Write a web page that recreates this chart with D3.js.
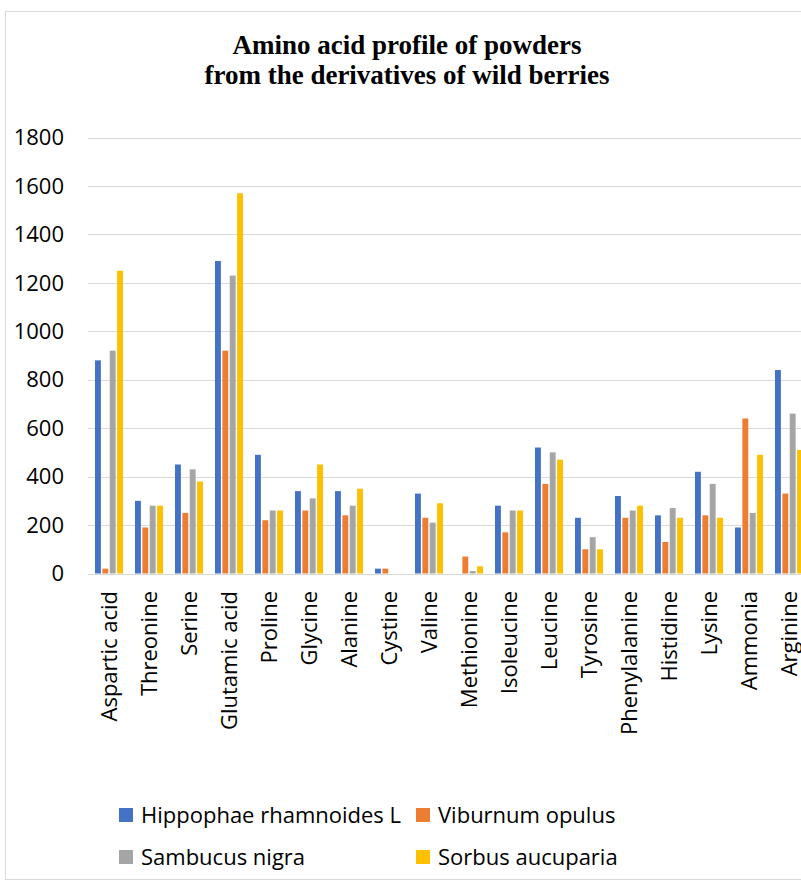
<!DOCTYPE html>
<html>
<head>
<meta charset="utf-8">
<script src="https://cdn.jsdelivr.net/npm/d3@7"></script>
<style>
  body { margin: 0; background: #fff; }
  svg { display: block; }
</style>
</head>
<body>
<div id="chart"></div>
<script>
const categories = ['Aspartic acid', 'Threonine', 'Serine', 'Glutamic acid', 'Proline', 'Glycine',
    'Alanine', 'Cystine', 'Valine', 'Methionine', 'Isoleucine', 'Leucine', 'Tyrosine',
    'Phenylalanine', 'Histidine', 'Lysine', 'Ammonia', 'Arginine'];
const series = ['Hippophae rhamnoides L', 'Viburnum opulus', 'Sambucus nigra', 'Sorbus aucuparia'];
const colors = ['#4472c4', '#ed7d31', '#a5a5a5', '#ffc000'];

const hippophae = [880, 300, 450, 1290, 490, 340, 340, 20, 330, 0, 280, 520, 230, 320, 240, 420, 190, 840];
const viburnum  = [20, 190, 250, 920, 220, 260, 240, 20, 230, 70, 170, 370, 100, 230, 130, 240, 640, 330];
const sambucus  = [920, 280, 430, 1230, 260, 310, 280, 0, 210, 10, 260, 500, 150, 260, 270, 370, 250, 660];
const sorbus    = [1250, 280, 380, 1570, 260, 450, 350, 0, 290, 30, 260, 470, 100, 280, 230, 230, 490, 510];
const values = [hippophae, viburnum, sambucus, sorbus];

const yTicks = [0, 200, 400, 600, 800, 1000, 1200, 1400, 1600, 1800];

const width = 801, height = 883;
const font = '"Open Sans", sans-serif';

const svg = d3.select('#chart').append('svg')
    .attr('width', width)
    .attr('height', height);

// chart frame
svg.append('rect')
    .attr('x', 5.5).attr('y', 11.5)
    .attr('width', 900).attr('height', 868)
    .attr('fill', '#fff')
    .attr('stroke', '#d9d9d9');

// title
const title = svg.append('text')
    .attr('text-anchor', 'middle')
    .style('font-family', '"Liberation Serif", "Times New Roman", serif')
    .style('font-weight', 'bold')
    .style('font-size', '27px')
    .attr('fill', '#000');
title.append('tspan').attr('x', 407).attr('y', 54).text('Amino acid profile of powders');
title.append('tspan').attr('x', 407).attr('y', 84).text('from the derivatives of wild berries');

const y = d3.scaleLinear().domain([0, 1800]).range([573.5, 137.5]);

const x0 = d3.scaleBand()
    .domain(categories)
    .range([89, 809])
    .paddingInner(0.3)
    .paddingOuter(0.15);

const x1 = d3.scaleBand()
    .domain(series)
    .range([0, x0.bandwidth()])
    .paddingInner(0.2);

// gridlines
svg.append('g')
    .selectAll('line')
    .data(yTicks)
    .join('line')
    .attr('x1', 88).attr('x2', 810)
    .attr('y1', d => Math.round(y(d)) + 0.5)
    .attr('y2', d => Math.round(y(d)) + 0.5)
    .attr('stroke', '#d9d9d9')
    .attr('stroke-width', 1);

// y tick labels
svg.append('g')
    .selectAll('text')
    .data(yTicks)
    .join('text')
    .attr('x', 64)
    .attr('y', d => y(d))
    .attr('dy', '0.35em')
    .attr('text-anchor', 'end')
    .style('font-family', font)
    .style('font-size', '22px')
    .attr('fill', '#000')
    .text(d => d);

// bars
const groups = svg.append('g')
    .selectAll('g')
    .data(series)
    .join('g')
    .attr('fill', (d, i) => colors[i]);

groups.selectAll('rect')
    .data((s, si) => categories.map((c, ci) => ({ c, s, v: values[si][ci] })))
    .join('rect')
    .attr('x', d => x0(d.c) + x1(d.s))
    .attr('width', x1.bandwidth())
    .attr('y', d => y(d.v))
    .attr('height', d => y(0) - y(d.v));

// category labels
svg.append('g')
    .selectAll('text')
    .data(categories)
    .join('text')
    .attr('transform', d => `translate(${x0(d) + x0.bandwidth() / 2}, 591) rotate(-90)`)
    .attr('text-anchor', 'end')
    .attr('dy', '0.35em')
    .style('font-family', font)
    .style('font-size', '22px')
    .attr('fill', '#000')
    .text(d => d);

// legend
const legendPos = [[119, 815], [416, 815], [119, 857], [416, 857]];
const legend = svg.append('g')
    .selectAll('g')
    .data(series)
    .join('g')
    .attr('transform', (d, i) => `translate(${legendPos[i][0]}, ${legendPos[i][1]})`);

legend.append('rect')
    .attr('x', 0).attr('y', -7)
    .attr('width', 14).attr('height', 14)
    .attr('fill', (d, i) => colors[i]);

legend.append('text')
    .attr('x', 22)
    .attr('dy', '0.35em')
    .style('font-family', font)
    .style('font-size', '22px')
    .attr('fill', '#000')
    .text(d => d);
</script>
</body>
</html>
